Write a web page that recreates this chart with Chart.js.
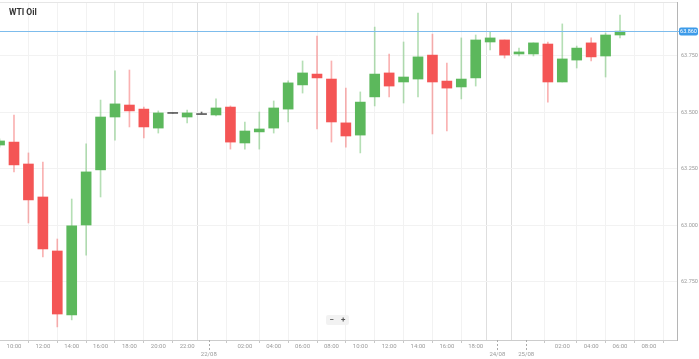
<!DOCTYPE html>
<html>
<head>
<meta charset="utf-8">
<script src="https://cdn.jsdelivr.net/npm/chart.js@4.4.0/dist/chart.umd.min.js"></script>
<style>
  html, body { margin: 0; padding: 0; background: #ffffff; }
  #wrap { position: relative; width: 699px; height: 359px; overflow: hidden; }
  #title { position: absolute; left: 9px; top: 7px; font: bold 8.5px Roboto, "Liberation Sans", sans-serif; color: #333; }
  #zoom { position: absolute; left: 326px; top: 315px; width: 23px; height: 10px; background: #f2f2f2; border-radius: 2px;
          font: bold 8px Roboto, "Liberation Sans", sans-serif; color: #555; display: flex; justify-content: space-around; align-items: center; line-height: 10px; }
</style>
</head>
<body>
<div id="wrap">
  <canvas id="c" width="699" height="359"></canvas>
  <div id="title">WTI Oil</div>
  <div id="zoom"><span>−</span><span>+</span></div>
</div>
<script>
// ---- data ----
const candleOpen  = [63.356,63.369,63.272,63.126,62.887,62.604,63.002,63.246,63.480,63.533,63.515,63.431,63.498,63.480,63.493,63.489,63.524,63.365,63.414,63.431,63.515,63.622,63.670,63.648,63.454,63.400,63.569,63.675,63.635,63.648,63.754,63.639,63.613,63.653,63.812,63.821,63.759,63.759,63.803,63.635,63.732,63.808,63.750,63.843];
const candleHigh  = [63.383,63.489,63.321,63.281,62.940,63.117,63.361,63.555,63.684,63.688,63.524,63.507,63.500,63.511,63.502,63.560,63.529,63.458,63.502,63.551,63.640,63.728,63.838,63.728,63.608,63.591,63.878,63.759,63.812,63.940,63.847,63.719,63.830,63.843,63.856,63.821,63.785,63.808,63.812,63.892,63.794,63.830,63.852,63.931];
const candleLow   = [63.347,63.237,63.011,62.861,62.551,62.582,62.869,63.126,63.378,63.436,63.387,63.409,63.496,63.454,63.493,63.485,63.338,63.338,63.338,63.409,63.458,63.586,63.427,63.369,63.347,63.321,63.529,63.569,63.542,63.569,63.405,63.418,63.560,63.617,63.777,63.741,63.750,63.750,63.546,63.635,63.697,63.728,63.657,63.830];
const candleClose = [63.374,63.268,63.113,62.896,62.608,62.998,63.237,63.480,63.538,63.507,63.436,63.498,63.498,63.498,63.493,63.520,63.369,63.418,63.427,63.520,63.631,63.675,63.653,63.458,63.396,63.546,63.670,63.617,63.657,63.746,63.635,63.608,63.648,63.821,63.830,63.754,63.768,63.808,63.635,63.737,63.785,63.746,63.843,63.860];

const xTickValues = [1,3,5,7,9,11,13,14.5,17,19,21,23,25,27,29,31,33,34.5,36.5,39,41,43,45];
const xTickLabels = ['10:00','12:00','14:00','16:00','18:00','20:00','22:00','22/08','02:00','04:00','06:00','08:00','10:00','12:00','14:00','16:00','18:00','24/08','25/08','02:00','04:00','06:00','08:00'];
const dateTickValues = [14.5, 34.5, 36.5];
const yTickValues = [62.75, 63.00, 63.25, 63.50, 63.75];
const lastPrice = 63.860;

// ---- styles ----
const UP = '#5cb85c', DOWN = '#f45555', FLAT = '#666666';
const UP_W = 'rgba(92,184,92,0.45)', DOWN_W = 'rgba(244,85,85,0.45)', FLAT_W = '#666666';

const dirOf = i => candleClose[i] > candleOpen[i] ? 1 : (candleClose[i] < candleOpen[i] ? -1 : 0);
const bodyData = candleOpen.map((o, i) => {
  const c = candleClose[i];
  if (Math.abs(c - o) < 0.004) { const m = (o + c) / 2; return { x: i, y: [m - 0.0025, m + 0.0025] }; }
  return { x: i, y: [o, c] };
});
const wickData = candleOpen.map((o, i) => ({ x: i, y: [candleLow[i], candleHigh[i]] }));
const bodyColors = candleOpen.map((o, i) => dirOf(i) > 0 ? UP : dirOf(i) < 0 ? DOWN : FLAT);
const wickColors = candleOpen.map((o, i) => dirOf(i) > 0 ? UP_W : dirOf(i) < 0 ? DOWN_W : FLAT_W);

const isDate = v => dateTickValues.some(d => Math.abs(d - v) < 1e-6);

const extras = {
  id: 'extras',
  beforeDatasetsDraw(chart) {
    const { ctx, chartArea } = chart;
    ctx.save();
    ctx.fillStyle = '#e6e6e6';
    ctx.fillRect(chartArea.left, chartArea.top, chartArea.right - chartArea.left, 1);
    ctx.restore();
  },
  afterDraw(chart) {
    const { ctx, chartArea, scales } = chart;
    ctx.save();
    ctx.strokeStyle = '#aaaaaa';
    ctx.setLineDash([2, 2]);
    ctx.lineWidth = 1;
    dateTickValues.forEach(v => {
      const x = Math.round(scales.x.getPixelForValue(v)) + 0.5;
      ctx.beginPath();
      ctx.moveTo(x, chartArea.bottom);
      ctx.lineTo(x, chartArea.bottom + 10);
      ctx.stroke();
    });
    ctx.setLineDash([]);
    const yp = Math.round(scales.y.getPixelForValue(lastPrice));
    ctx.fillStyle = '#7dbcec';
    ctx.fillRect(chartArea.left, yp, chartArea.right - chartArea.left + 2, 1);
    const lx = chartArea.right + 2, lw = 19, lh = 8;
    ctx.fillStyle = '#3d9be9';
    ctx.beginPath();
    ctx.roundRect(lx, yp + 0.5 - lh / 2, lw, lh, 2);
    ctx.fill();
    ctx.fillStyle = '#ffffff';
    ctx.font = '5.5px Roboto, "Liberation Sans", sans-serif';
    ctx.textAlign = 'center';
    ctx.textBaseline = 'middle';
    ctx.fillText(lastPrice.toFixed(3), lx + lw / 2, yp + 1);
    ctx.restore();
  }
};

new Chart(document.getElementById('c'), {
  type: 'bar',
  data: {
    datasets: [
      { data: bodyData, backgroundColor: bodyColors, barThickness: 10, grouped: false, order: 0, borderWidth: 0 },
      { data: wickData, backgroundColor: wickColors, barThickness: 1, grouped: false, order: 1, borderWidth: 0 }
    ]
  },
  options: {
    responsive: false,
    animation: false,
    devicePixelRatio: 1,
    layout: { padding: { top: 2, left: 0, right: 0, bottom: 0 } },
    plugins: { legend: { display: false }, tooltip: { enabled: false } },
    scales: {
      x: {
        type: 'linear',
        min: 0.03, max: 46.95,
        offset: false,
        afterBuildTicks: s => { s.ticks = xTickValues.map(v => ({ value: v })); },
        afterFit: s => { s.height = 19; s.paddingLeft = 0; s.paddingRight = 0; },
        grid: {
          color: ctx => (ctx.tick && isDate(ctx.tick.value)) ? '#dedede' : '#f2f2f2',
          tickColor: ctx => (ctx.tick && isDate(ctx.tick.value)) ? 'rgba(0,0,0,0)' : '#c8c8c8',
          tickLength: 3
        },
        border: { color: '#cccccc' },
        ticks: {
          autoSkip: false, maxRotation: 0, padding: 0,
          color: '#9a9a9a',
          font: { size: 6, family: 'Roboto, "Liberation Sans", sans-serif', lineHeight: 1.25 },
          callback: v => {
            const k = xTickValues.findIndex(t => Math.abs(t - v) < 1e-6);
            if (k < 0) return '';
            return isDate(v) ? ['', xTickLabels[k]] : xTickLabels[k];
          }
        }
      },
      y: {
        type: 'linear',
        position: 'right',
        min: 62.493, max: 63.989,
        afterBuildTicks: s => { s.ticks = yTickValues.map(v => ({ value: v })); },
        afterFit: s => { s.width = 22; s.paddingTop = 0; s.paddingBottom = 0; },
        grid: { color: '#f2f2f2', drawTicks: false },
        border: { color: '#b5b5b5' },
        ticks: {
          padding: 4, color: '#9a9a9a',
          font: { size: 5.5, family: 'Roboto, "Liberation Sans", sans-serif' },
          callback: v => Number(v).toFixed(3)
        }
      }
    }
  },
  plugins: [extras]
});
</script>
</body>
</html>
